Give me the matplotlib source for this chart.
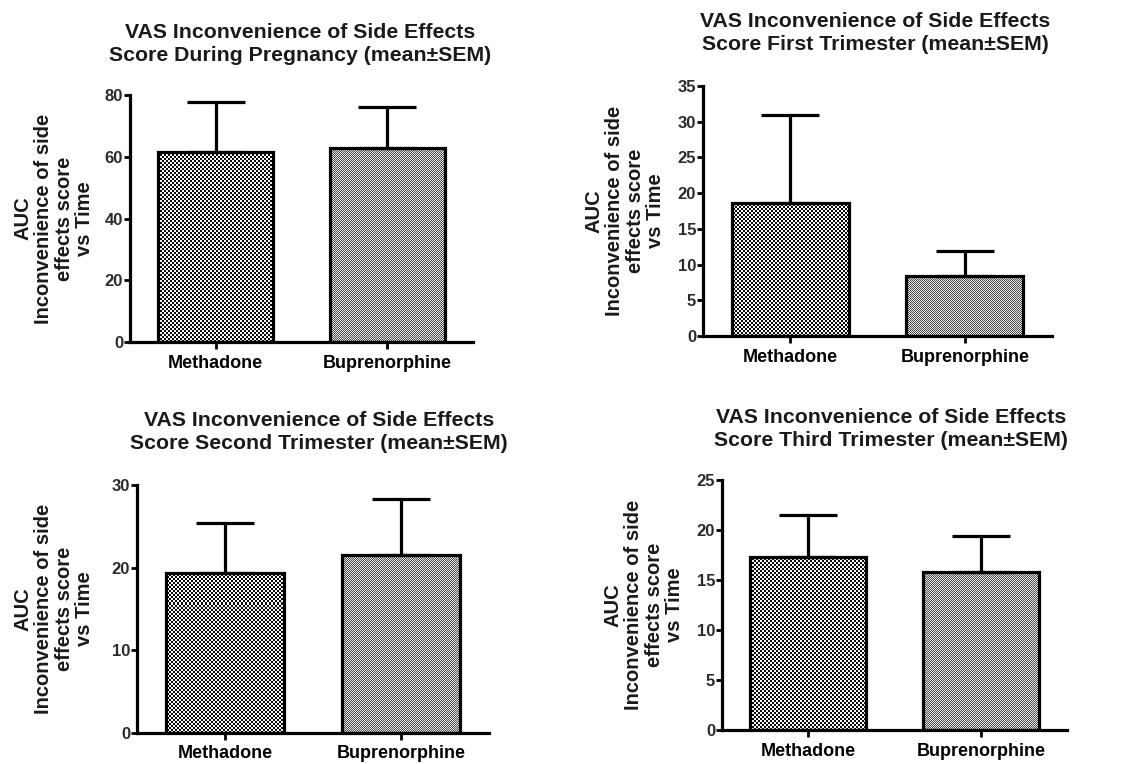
import numpy as np
import matplotlib
matplotlib.use('Agg')
import matplotlib.pyplot as plt

# Group names and mean / SEM values for each period
groups = ['Methadone', 'Buprenorphine']
titles = [
    'VAS Inconvenience of Side Effects\nScore During Pregnancy (mean\u00b1SEM)',
    'VAS Inconvenience of Side Effects\nScore First Trimester (mean\u00b1SEM)',
    'VAS Inconvenience of Side Effects\nScore Second Trimester (mean\u00b1SEM)',
    'VAS Inconvenience of Side Effects\nScore Third Trimester (mean\u00b1SEM)',
]
pregnancy_mean = [61.5, 62.8]
pregnancy_sem = [16.2, 13.3]
first_mean = [18.6, 8.4]
first_sem = [12.3, 3.5]
second_mean = [19.4, 21.5]
second_sem = [6.0, 6.8]
third_mean = [17.3, 15.8]
third_sem = [4.2, 3.6]
y_max = [80, 35, 30, 25]
y_step = [20, 5, 10, 5]

ylabel = 'AUC\nInconvenience of side\neffects score\nvs Time'

W, H = 1126, 764
fig = plt.figure(figsize=(W / 100, H / 100), dpi=100)
plt.rcParams['font.family'] = ['Liberation Sans', 'DejaVu Sans']
plt.rcParams['font.weight'] = 'bold'

# axes boxes in pixels: left, right, top, bottom
boxes = [(130, 473, 95, 342), (703, 1052, 86, 336),
         (137, 489, 485, 733), (722, 1067, 480, 730)]
title_pos = [(300, 44), (875, 33), (319, 432), (891, 429)]
ylabel_x = [54, 625, 54, 644]

means = [pregnancy_mean, first_mean, second_mean, third_mean]
sems = [pregnancy_sem, first_sem, second_sem, third_sem]


def checker(h, w, size, dark, light):
    ii, jj = np.mgrid[0:h, 0:w]
    board = ((ii // size + jj // size) % 2).astype(float)
    return np.where(board > 0, light, dark)


for k in range(4):
    l, r, t, b = boxes[k]
    ax = fig.add_axes([l / W, 1 - b / H, (r - l) / W, (b - t) / H])
    x = np.arange(len(groups))
    bars = ax.bar(x, means[k], width=0.67, facecolor='none',
                  edgecolor='black', linewidth=2.3, zorder=3)
    ax.errorbar(x, means[k], yerr=[[0, 0], sems[k]], fmt='none',
                ecolor='black', elinewidth=2.3, capsize=21, capthick=2.3,
                zorder=2)

    # dotted fills: coarse for methadone, fine for buprenorphine
    h_px, w_px = b - t, r - l
    patterns = [checker(h_px, w_px, 2, 0.05, 0.97),
                checker(h_px, w_px, 1, 0.3, 0.9)]
    for bar, pat in zip(bars, patterns):
        im = ax.imshow(pat, extent=(-0.5, 1.5, 0, y_max[k]), origin='lower',
                       aspect='auto', interpolation='nearest', cmap='gray',
                       vmin=0, vmax=1, zorder=1)
        im.set_clip_path(bar)
    ax.set_xlim(-0.5, 1.5)
    ax.set_ylim(0, y_max[k])

    ax.set_yticks(np.arange(0, y_max[k] + 1, y_step[k]))
    ax.set_xticks(x)
    ax.set_xticklabels(groups, fontsize=13, fontweight='bold')
    ax.tick_params(axis='y', length=4, width=2, pad=1, labelsize=12,
                   labelcolor='#2a2a2a')
    ax.tick_params(axis='x', length=5, width=2, pad=4)
    for lab in ax.get_yticklabels():
        lab.set_fontweight('bold')
    ax.spines['top'].set_visible(False)
    ax.spines['right'].set_visible(False)
    ax.spines['left'].set_linewidth(2.3)
    ax.spines['bottom'].set_linewidth(2.3)

    tx, ty = title_pos[k]
    fig.text(tx / W, 1 - ty / H, titles[k], ha='center', va='center',
             fontsize=15.3, fontweight='bold', linespacing=1.3,
             color='#1a1a1a')
    fig.text(ylabel_x[k] / W, 1 - (t + b) / 2 / H, ylabel, rotation=90,
             ha='center', va='center', fontsize=14.5, fontweight='bold',
             linespacing=1.1, color='#1a1a1a', multialignment='center')

fig.savefig('out.png', dpi=100)
